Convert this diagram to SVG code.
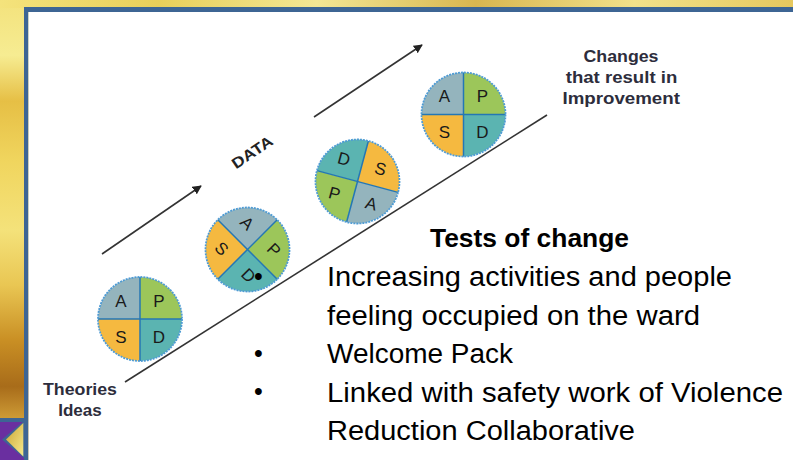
<svg xmlns="http://www.w3.org/2000/svg" width="793" height="460" viewBox="0 0 793 460">
  <defs>
    <linearGradient id="goldV" x1="0" y1="0" x2="0" y2="1">
      <stop offset="0" stop-color="#f3e27c"/>
      <stop offset="0.12" stop-color="#f6ec92"/>
      <stop offset="0.22" stop-color="#e6bf45"/>
      <stop offset="0.35" stop-color="#f0d55e"/>
      <stop offset="0.5" stop-color="#f4e27a"/>
      <stop offset="0.62" stop-color="#e9c653"/>
      <stop offset="0.74" stop-color="#c98f24"/>
      <stop offset="0.84" stop-color="#a86c1a"/>
      <stop offset="0.92" stop-color="#d3a23a"/>
      <stop offset="1" stop-color="#e2b850"/>
    </linearGradient>
    <linearGradient id="goldH" x1="0" y1="0" x2="1" y2="0">
      <stop offset="0" stop-color="#f4e37c"/>
      <stop offset="0.2" stop-color="#e8cf5a"/>
      <stop offset="0.4" stop-color="#f3e794"/>
      <stop offset="0.6" stop-color="#d8b650"/>
      <stop offset="0.8" stop-color="#f1e18a"/>
      <stop offset="1" stop-color="#e6c85e"/>
    </linearGradient>
    <linearGradient id="triGold" x1="0" y1="0" x2="1" y2="1">
      <stop offset="0" stop-color="#c9a534"/>
      <stop offset="1" stop-color="#f6e98c"/>
    </linearGradient>
    <marker id="arrow" viewBox="0 0 10 10" refX="9" refY="5" markerWidth="9" markerHeight="9" markerUnits="userSpaceOnUse" orient="auto">
      <path d="M0,0 L10,5 L0,10 Z" fill="#222"/>
    </marker>
    <path id="qTL" d="M0,0 L-42,0 A42,42 0 0 1 0,-42 Z"/>
    <path id="qTR" d="M0,0 L0,-42 A42,42 0 0 1 42,0 Z"/>
    <path id="qBR" d="M0,0 L42,0 A42,42 0 0 1 0,42 Z"/>
    <path id="qBL" d="M0,0 L0,42 A42,42 0 0 1 -42,0 Z"/>
    <g id="divs">
      <line x1="-42" y1="0" x2="42" y2="0"/>
      <line x1="0" y1="-42" x2="0" y2="42"/>
    </g>
  </defs>
  <style>
    .gA { fill: #94b4bd; }
    .gP { fill: #9cc65a; }
    .gS { fill: #f5b940; }
    .gD { fill: #5bb4b1; }
    .div { stroke: #2477b5; stroke-width: 1.5; }
    .ring { fill: none; stroke: #4e9bd4; stroke-width: 1.8; stroke-dasharray: 2 1; }
    .lt { font-family: "Liberation Sans", Arial, sans-serif; font-size: 17px; fill: #1a1a1a; text-anchor: middle; dominant-baseline: central; }
    .lbl { font-family: "Liberation Sans", Arial, sans-serif; font-weight: bold; font-size: 17px; fill: #2d2d3c; text-anchor: middle; }
    .body { font-family: "Liberation Sans", Arial, sans-serif; font-size: 27px; fill: #000; }
    .bul { font-family: "Liberation Sans", Arial, sans-serif; font-size: 25px; fill: #000; text-anchor: middle; }
    .conn { stroke: #333; stroke-width: 1.6; fill: none; }
  </style>

  <!-- background frame -->
  <g id="frame">
    <rect x="0" y="0" width="793" height="460" fill="url(#goldV)"/>
    <rect x="0" y="0" width="793" height="8" fill="url(#goldH)"/>
    <rect x="24" y="7" width="769" height="5" fill="#3d6594"/>
    <rect x="24" y="7" width="4.5" height="453" fill="#3d6594"/>
    <rect x="28.5" y="12" width="764.5" height="448" fill="#ffffff"/>
    <rect x="0" y="418" width="24" height="4" fill="#3d6594"/>
    <rect x="0" y="422" width="24" height="38" fill="#6a2fa0"/>
    <polygon points="24,421 2,439.5 24,458" fill="#3d6594"/>
    <polygon points="23.3,423 6,439.5 23.3,456.5" fill="url(#triGold)"/>
  </g>

  <!-- connectors -->
  <g id="connectors">
    <line class="conn" x1="125" y1="382" x2="547" y2="115"/>
    <line class="conn" x1="102" y1="254" x2="201" y2="186" marker-end="url(#arrow)"/>
    <line class="conn" x1="314" y1="117" x2="422" y2="45" marker-end="url(#arrow)"/>
  </g>

  <!-- PDSA cycle 1 -->
  <g id="cycle-1" transform="translate(140,319)">
    <use href="#qTL" class="gA"/>
    <use href="#qTR" class="gP"/>
    <use href="#qBL" class="gS"/>
    <use href="#qBR" class="gD"/>
    <use href="#divs" class="div"/>
    <circle r="42" class="ring"/>
    <text class="lt" x="-19" y="-18">A</text>
    <text class="lt" x="19" y="-18">P</text>
    <text class="lt" x="-19" y="18">S</text>
    <text class="lt" x="19" y="18">D</text>
  </g>

  <!-- PDSA cycle 2 -->
  <g id="cycle-2" transform="translate(247.5,249.5) rotate(45)">
    <use href="#qTL" class="gA"/>
    <use href="#qTR" class="gP"/>
    <use href="#qBL" class="gS"/>
    <use href="#qBR" class="gD"/>
    <use href="#divs" class="div"/>
    <circle r="42" class="ring"/>
    <text class="lt" x="-19" y="-18">A</text>
    <text class="lt" x="19" y="-18">P</text>
    <text class="lt" x="-19" y="18">S</text>
    <text class="lt" x="19" y="18">D</text>
  </g>

  <!-- PDSA cycle 3 -->
  <g id="cycle-3" transform="translate(357.5,181.5) rotate(15)">
    <use href="#qTL" class="gD"/>
    <use href="#qTR" class="gS"/>
    <use href="#qBL" class="gP"/>
    <use href="#qBR" class="gA"/>
    <use href="#divs" class="div"/>
    <circle r="42" class="ring"/>
    <text class="lt" x="-19" y="-18">D</text>
    <text class="lt" x="19" y="-18">S</text>
    <text class="lt" x="-19" y="18">P</text>
    <text class="lt" x="19" y="18">A</text>
  </g>

  <!-- PDSA cycle 4 -->
  <g id="cycle-4" transform="translate(463.5,114.5)">
    <use href="#qTL" class="gA"/>
    <use href="#qTR" class="gP"/>
    <use href="#qBL" class="gS"/>
    <use href="#qBR" class="gD"/>
    <use href="#divs" class="div"/>
    <circle r="42" class="ring"/>
    <text class="lt" x="-19" y="-18">A</text>
    <text class="lt" x="19" y="-18">P</text>
    <text class="lt" x="-19" y="18">S</text>
    <text class="lt" x="19" y="18">D</text>
  </g>

  <!-- DATA label -->
  <g id="data-label">
    <text transform="translate(252,152) rotate(-34)" font-family="Liberation Sans, Arial, sans-serif" font-weight="bold" font-size="15" fill="#222" text-anchor="middle" dominant-baseline="central" textLength="46" lengthAdjust="spacingAndGlyphs">DATA</text>
  </g>

  <!-- start label -->
  <g id="theories-ideas">
    <text class="lbl" x="80" y="395" textLength="74" lengthAdjust="spacingAndGlyphs">Theories</text>
    <text class="lbl" x="80" y="416" textLength="43.5" lengthAdjust="spacingAndGlyphs">Ideas</text>
  </g>

  <!-- end label -->
  <g id="changes-label">
    <text class="lbl" x="621" y="62" textLength="75" lengthAdjust="spacingAndGlyphs">Changes</text>
    <text class="lbl" x="621.5" y="83" textLength="111.5" lengthAdjust="spacingAndGlyphs">that result in</text>
    <text class="lbl" x="621.2" y="104" textLength="117.5" lengthAdjust="spacingAndGlyphs">Improvement</text>
  </g>

  <!-- tests of change -->
  <g id="tests-of-change">
    <text x="430" y="247" font-family="Liberation Sans, Arial, sans-serif" font-weight="bold" font-size="25" fill="#000" textLength="199" lengthAdjust="spacingAndGlyphs">Tests of change</text>
    <text class="bul" x="258.5" y="285">•</text>
    <text class="body" x="327" y="286" textLength="405" lengthAdjust="spacingAndGlyphs">Increasing activities and people</text>
    <text class="body" x="327" y="325" textLength="373" lengthAdjust="spacingAndGlyphs">feeling occupied on the ward</text>
    <text class="bul" x="258.5" y="362">•</text>
    <text class="body" x="327" y="363" textLength="186" lengthAdjust="spacingAndGlyphs">Welcome Pack</text>
    <text class="bul" x="258.5" y="400">•</text>
    <text class="body" x="327" y="402" textLength="456" lengthAdjust="spacingAndGlyphs">Linked with safety work of Violence</text>
    <text class="body" x="327" y="440" textLength="308" lengthAdjust="spacingAndGlyphs">Reduction Collaborative</text>
  </g>
</svg>
